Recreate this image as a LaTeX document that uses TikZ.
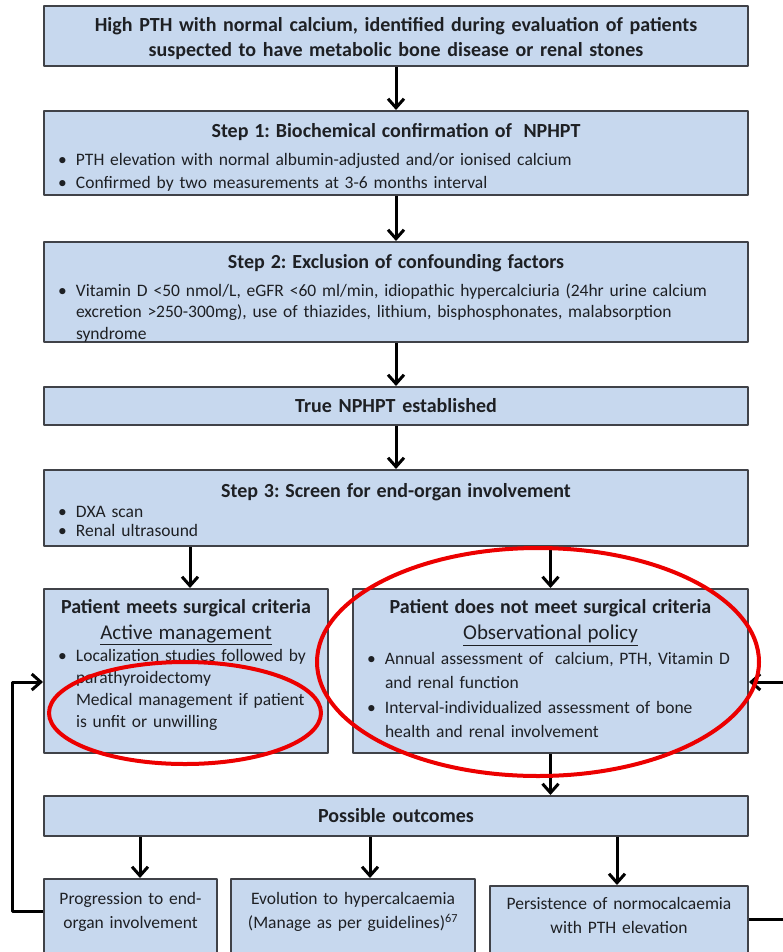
\documentclass[tikz,border=0pt]{standalone}
\usepackage{fontspec}
\setmainfont{Carlito}
\usetikzlibrary{arrows.meta}
\definecolor{boxfill}{RGB}{199,216,238}
\definecolor{boxline}{RGB}{64,66,72}
\definecolor{txt}{RGB}{30,32,36}
\definecolor{ring}{RGB}{236,0,0}
\frenchspacing
\newcommand{\headfont}{\fontsize{20bp}{25bp}\bfseries\selectfont}
\newcommand{\pitem}[1]{\par\hangindent=24bp\hangafter=1\noindent\makebox[24bp][l]{\hspace{6bp}\textbullet}#1}
\begin{document}
\begin{tikzpicture}[x=1bp,y=-1bp,line join=round,>={Straight Barb[length=9bp,width=16bp]},line width=3bp]
	\tikzset{box/.style={draw=boxline,fill=boxfill,line width=2bp,anchor=north west,inner xsep=8bp,inner ysep=0pt,text=txt,font=\fontsize{17.5bp}{23bp}\selectfont},
		wide/.style={box,minimum width=704bp,text width=688bp},
		outbox/.style={box,align=center,font=\fontsize{17.5bp}{24bp}\selectfont}}
	\useasboundingbox (0,0) rectangle (783,952);
	\clip (0,0) rectangle (783,952);
	\node[box,wide,minimum height=60bp,align=center,font=\headfont] (hpth) at (43,5) {High PTH with normal calcium, identified during evaluation of patients\\suspected to have metabolic bone disease or renal stones\par\vspace{-6bp}};
	\node[box,wide,minimum height=84bp] (step1) at (43,110) {{\centering\headfont Step 1: Biochemical confirmation of \ NPHPT\par}\vspace{5bp}%
		\pitem{PTH elevation with normal albumin-adjusted and/or ionised calcium}%
		\pitem{Confirmed by two measurements at 3-6 months interval}\par\vspace{-8bp}};
	\node[box,wide,minimum height=100bp] (step2) at (43,241) {{\centering\headfont Step 2: Exclusion of confounding factors\par}\vspace{6bp}%
		{\baselineskip=21.5bp\pitem{Vitamin D <50 nmol/L, eGFR <60 ml/min, idiopathic hypercalciuria (24hr urine calcium\newline excretion >250-300mg), use of thiazides, lithium, bisphosphonates, malabsorption\newline syndrome}\par}\vspace{-13bp}};
	\node[box,wide,minimum height=38bp,align=center,font=\headfont] (true) at (43,386) {True NPHPT established};
	\node[box,wide,minimum height=76bp] (step3) at (43,469) {{\centering\headfont Step 3: Screen for end-organ involvement\par}\vspace{1bp}%
		{\baselineskip=19bp\pitem{DXA scan}\pitem{Renal ultrasound}\par}\vspace{-4bp}};
	\node[box,minimum width=284bp,text width=268bp,minimum height=164bp] (surg) at (43,588) {{\centering\headfont Patient meets surgical criteria\par}%
		{\centering\fontsize{21bp}{26bp}\selectfont\underline{Active management}\par}%
		{\baselineskip=22bp\pitem{Localization studies followed by\newline parathyroidectomy}%
		\par\hangindent=24bp\hangafter=0\noindent Medical management if patient\newline is unfit or unwilling\par}\vspace{13bp}};
	\node[box,minimum width=395bp,text width=379bp,minimum height=164bp] (obs) at (352,588) {{\centering\headfont Patient does not meet surgical criteria\par}%
		{\centering\fontsize{21bp}{26bp}\selectfont\underline{Observational policy}\par}%
		{\baselineskip=24.5bp\pitem{Annual assessment of \ calcium, PTH, Vitamin D\newline and renal function}\pitem{Interval-individualized assessment of bone\newline health and renal involvement}\par}\vspace{4bp}};
	\node[box,wide,minimum height=40bp,align=center,font=\headfont] (outcomes) at (43,795) {Possible outcomes};
	\node[outbox,minimum width=173bp,text width=157bp,minimum height=80bp] (prog) at (43,878) {Progression to end-\\organ involvement\par\vspace{14bp}};
	\node[outbox,minimum width=244bp,text width=228bp,minimum height=80bp] (evol) at (230,878) {Evolution to hypercalcaemia\\(Manage as per guidelines)\textsuperscript{67}\par\vspace{14bp}};
	\node[outbox,minimum width=258bp,text width=242bp,minimum height=73bp] (pers) at (489,885) {Persistence of normocalcaemia\\with PTH elevation\par\vspace{14bp}};
	\draw[->] (hpth) -- (step1);
	\draw[->] (step1) -- (step2);
	\draw[->] (step2) -- (true);
	\draw[->] (true) -- (step3);
	\coordinate (asurg) at (190,0);
	\draw[->] (step3.south -| asurg) -- (surg.north -| asurg);
	\draw[->] (step3.south -| obs) -- (obs);
	\draw[->] (obs) -- (obs |- outcomes.north);
	\foreach \nm/\xx in {prog/140,evol/370,pers/617}{
		\coordinate (a\nm) at (\xx,0);
		\draw[->] (outcomes.south -| a\nm) -- (\nm.north -| a\nm);
	}
	\draw[->] ([yshift=8bp]prog.west) -- ++(-31,0) |- ([yshift=-11bp]surg.west);
	\draw[->] ([yshift=3bp]pers.east) -- ++(50,0) |- ([yshift=-11bp]obs.east);
	\draw[ring,line width=4bp] (185,713) ellipse [x radius=136bp,y radius=51bp];
	\draw[ring,line width=4bp] (538,662) ellipse [x radius=221bp,y radius=114bp];
\end{tikzpicture}
\end{document}
